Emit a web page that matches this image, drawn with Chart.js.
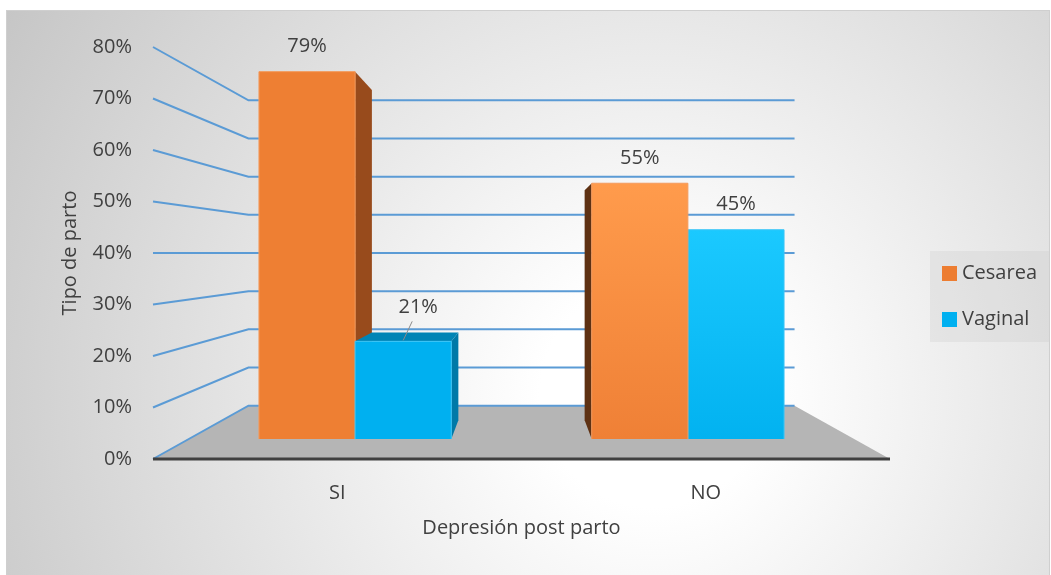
<!DOCTYPE html>
<html>
<head>
<meta charset="utf-8">
<script src="https://cdn.jsdelivr.net/npm/chart.js@4.4.0/dist/chart.umd.min.js"></script>
<style>
    html, body { margin: 0; padding: 0; background: #fff; overflow: hidden; }
    #frame {
        position: absolute; left: 6px; top: 10px;
        width: 1042px; height: 564px;
        border: 1px solid #cfcfcf;
        background: radial-gradient(circle farthest-corner at 62% 68%, #ffffff 0%, #ffffff 15%, #c6c6c6 100%);
    }
    canvas { display: block; }
</style>
</head>
<body>
<div id="frame"><canvas id="partoChart" width="1042" height="564"></canvas></div>
<script>
// Données du graphique
const categories = ['SI', 'NO'];
const cesareaValues = [79, 55];
const vaginalValues = [21, 45];
const yTickValues = [0, 10, 20, 30, 40, 50, 60, 70, 80];

// Profondeurs de la perspective (1 = plan avant)
const WALL_DEPTH = 0.741;
const BAR_FRONT = 0.903;
const BAR_BACK = 0.812;

// Couleurs des faces
const faces = {
    Cesarea: { front: ['#EE7F33', '#EE7F33'], frontLit: ['#FF9B4C', '#EF8036'], sideR: '#984B1C', sideL: '#5E3113', top: '#C7652A', edge: '#F39A5C' },
    Vaginal: { front: ['#00B0F0', '#00B0F0'], frontLit: ['#1BC9FF', '#02B2F0'], sideR: '#0079A8', sideL: '#005F85', top: '#0084B5', edge: '#3CC6F7' }
};

function poly(ctx, pts, fill) {
    ctx.beginPath();
    ctx.moveTo(pts[0][0], pts[0][1]);
    for (let i = 1; i < pts.length; i++) ctx.lineTo(pts[i][0], pts[i][1]);
    ctx.closePath();
    ctx.fillStyle = fill;
    ctx.fill();
}

const perspective3d = {
    id: 'perspective3d',
    beforeDatasetsDraw(chart) {
        const ctx = chart.ctx;
        const a = chart.chartArea;
        const yScale = chart.scales.y;
        const vp = { x: (a.left + a.right) / 2, y: (a.top + a.bottom) / 2 };
        const P = (px, py, s) => [vp.x + (px - vp.x) * s, vp.y + (py - vp.y) * s];
        const base = yScale.getPixelForValue(0);

        ctx.save();
        // Sol
        poly(ctx, [P(a.left, base, 1), P(a.left, base, WALL_DEPTH), P(a.right, base, WALL_DEPTH), P(a.right, base, 1)], '#B5B5B5');

        // Quadrillage (mur gauche + mur du fond)
        ctx.strokeStyle = '#5B9BD5';
        ctx.lineWidth = 2;
        yScale.ticks.forEach(t => {
            const py = yScale.getPixelForValue(t.value);
            const p0 = P(a.left, py, 1), p1 = P(a.left, py, WALL_DEPTH), p2 = P(a.right, py, WALL_DEPTH);
            ctx.beginPath();
            ctx.moveTo(p0[0], p0[1]);
            ctx.lineTo(p1[0], p1[1]);
            ctx.lineTo(p2[0], p2[1]);
            ctx.stroke();
        });

        // Barres, de la plus éloignée du point de fuite à la plus proche
        const bars = [];
        chart.data.datasets.forEach((ds, i) => {
            chart.getDatasetMeta(i).data.forEach((el, j) => bars.push({ el, ds, j }));
        });
        bars.sort((p, q) => Math.abs(q.el.x - vp.x) - Math.abs(p.el.x - vp.x));

        bars.forEach(({ el, ds }) => {
            const c = faces[ds.label];
            const l = el.x - el.width / 2, r = el.x + el.width / 2, t = el.y, b = el.base;
            const F = (px, py) => P(px, py, BAR_FRONT);
            const B = (px, py) => P(px, py, BAR_BACK);
            const lit = el.x > vp.x;

            if (el.x < vp.x) {
                poly(ctx, [F(r, t), B(r, t), B(r, b), F(r, b)], c.sideR);
            } else {
                poly(ctx, [F(l, t), B(l, t), B(l, b), F(l, b)], c.sideL);
            }
            if (t > vp.y) {
                poly(ctx, [F(l, t), F(r, t), B(r, t), B(l, t)], c.top);
            }
            const ft = F(l, t), fb = F(r, b);
            const grad = ctx.createLinearGradient(0, ft[1], 0, fb[1]);
            const cols = lit ? c.frontLit : c.front;
            grad.addColorStop(0, cols[0]);
            grad.addColorStop(1, cols[1]);
            poly(ctx, [F(l, t), F(r, t), F(r, b), F(l, b)], grad);
            ctx.strokeStyle = c.edge;
            ctx.lineWidth = 1;
            ctx.beginPath();
            ctx.moveTo(...F(l, b));
            ctx.lineTo(...F(l, t));
            ctx.lineTo(...F(r, t));
            ctx.lineTo(...F(r, b));
            ctx.stroke();
        });

        // Arête avant du sol
        ctx.strokeStyle = '#404040';
        ctx.lineWidth = 3;
        ctx.beginPath();
        ctx.moveTo(a.left, base);
        ctx.lineTo(a.right, base);
        ctx.stroke();

        // Étiquettes de valeurs
        ctx.font = "20px 'Open Sans'";
        ctx.fillStyle = '#404040';
        ctx.textAlign = 'center';
        ctx.textBaseline = 'middle';
        bars.forEach(({ el, ds, j }) => {
            const top = P(el.x, el.y, BAR_FRONT);
            let lx = top[0], ly = top[1] - 25;
            if (el.y > vp.y) {
                // étiquette déplacée avec ligne de repère
                lx += 15; ly -= 9;
                ctx.strokeStyle = '#8a8a8a';
                ctx.lineWidth = 1;
                ctx.beginPath();
                ctx.moveTo(lx - 6, ly + 14);
                ctx.lineTo(top[0], top[1] - 1);
                ctx.stroke();
            }
            ctx.fillText(ds.data[j] + '%', lx, ly);
        });
        ctx.restore();
        return false;
    },
    afterDraw(chart) {
        // Légende
        const ctx = chart.ctx;
        ctx.save();
        ctx.fillStyle = 'rgba(190,190,190,0.22)';
        ctx.fillRect(923, 240, 126, 91);
        ctx.font = "20px 'Open Sans'";
        ctx.textAlign = 'left';
        ctx.textBaseline = 'middle';
        chart.data.datasets.forEach((ds, i) => {
            const y = 262 + i * 46;
            ctx.fillStyle = ds.backgroundColor;
            ctx.fillRect(935, y - 7, 15, 15);
            ctx.fillStyle = '#404040';
            ctx.fillText(ds.label, 955, y);
        });
        ctx.restore();
    }
};

Chart.defaults.font.family = "'Open Sans', sans-serif";
Chart.defaults.font.size = 20;
Chart.defaults.color = '#404040';

new Chart(document.getElementById('partoChart'), {
    type: 'bar',
    data: {
        labels: categories,
        datasets: [
            { label: 'Cesarea', data: cesareaValues, backgroundColor: '#ED7D31' },
            { label: 'Vaginal', data: vaginalValues, backgroundColor: '#00B0F0' }
        ]
    },
    options: {
        responsive: false,
        animation: false,
        events: [],
        layout: { padding: { top: 36, right: 159, left: 0, bottom: 0 } },
        datasets: { bar: { categoryPercentage: 0.578, barPercentage: 1 } },
        plugins: {
            legend: { display: false },
            tooltip: { enabled: false }
        },
        scales: {
            x: {
                grid: { display: false },
                border: { display: false },
                ticks: { padding: 14 },
                title: { display: true, text: 'Depresión post parto', padding: { bottom: 35 } },
                afterFit: s => { s.height = 116; }
            },
            y: {
                min: 0,
                max: 80,
                grid: { display: false },
                border: { display: false },
                ticks: { padding: 13, callback: v => v + '%' },
                afterBuildTicks: s => { s.ticks = yTickValues.map(v => ({ value: v })); },
                title: { display: true, text: 'Tipo de parto', padding: { top: 51 } },
                afterFit: s => { s.width = 146; }
            }
        }
    },
    plugins: [perspective3d]
});
</script>
</body>
</html>
